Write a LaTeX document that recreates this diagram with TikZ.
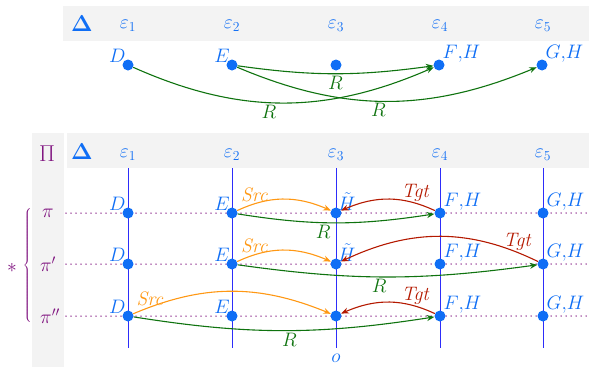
\RequirePackage{fix-cm}
\documentclass[tikz,border=0pt]{standalone}
\usetikzlibrary{arrows.meta,bending}
\definecolor{dotblue}{RGB}{15,110,245}
\definecolor{lineblue}{RGB}{45,45,250}
\definecolor{rgreen}{RGB}{15,115,15}
\definecolor{sorange}{RGB}{255,152,20}
\definecolor{tred}{RGB}{180,25,0}
\definecolor{ppurple}{RGB}{128,20,128}
\definecolor{bandgray}{RGB}{243,243,243}
\tikzset{
  big/.style={font=\fontsize{19.5}{22}\selectfont},
  huge/.style={font=\fontsize{23}{26}\selectfont},
  lbl/.style={big, text=dotblue, inner sep=1pt},
  pt/.style={circle, fill=dotblue, minimum size=11pt, inner sep=0pt},
  arc/.style={line width=1.1pt, -{Stealth[length=7.5pt,width=6pt]}},
  rarc/.style={arc, draw=rgreen},
  sarc/.style={arc, draw=sorange},
  tarc/.style={arc, draw=tred},
  rlab/.style={big, text=rgreen, inner sep=1.5pt},
  slab/.style={big, text=sorange, inner sep=1pt},
  tlab/.style={big, text=tred, inner sep=1pt},
  plab/.style={big, text=ppurple},
  vline/.style={draw=lineblue, line width=1pt},
  hdot/.style={draw=ppurple, line width=1.5pt, dash pattern=on 0pt off 5pt, line cap=round},
  band/.style={fill=bandgray, draw=none},
  ul/.style={label={[lbl,label distance=-4pt]135:#1}},
  ur/.style={label={[lbl,label distance=-3pt]25:#1}},
  uh/.style={label={[lbl,label distance=-4pt]60:#1}}
}
\begin{document}
\begin{tikzpicture}[x=1pt,y=-1pt]
\useasboundingbox (0,0) rectangle (589,367);
% bands
\fill[band] (63,6) rectangle (589,41);
\fill[band] (32,133) rectangle (64,367);
\fill[band] (67,133) rectangle (589,168);
% top header
\node[lbl, huge] (tDelta) at (82,24) {$\mathbf{\Delta}$};
\node[lbl] (te1) at (128,26) {$\varepsilon_1$};
\node[lbl] (te2) at (232,26) {$\varepsilon_2$};
\node[lbl] (te3) at (336,26) {$\varepsilon_3$};
\node[lbl] (te4) at (440,26) {$\varepsilon_4$};
\node[lbl] (te5) at (543,26) {$\varepsilon_5$};
% top dots
\node[pt, ul={$D$}] (tD) at (128,65) {};
\node[pt, ul={$E$}] (tE) at (232,65) {};
\node[pt] (tM) at (336,65) {};
\node[pt, ur={$F{,}H$}] (tF) at (439,65) {};
\node[pt, ur={$G{,}H$}] (tG) at (542,65) {};
\draw[rarc] (tD) to[bend right=24] node[pos=.45,below,rlab]{$R$} (tF);
\draw[rarc] (tE) to[bend right=8] node[pos=.5,below,rlab]{$R$} (tF);
\draw[rarc] (tE) to[bend right=23] node[pos=.47,below,rlab]{$R$} (tG);
% bottom header
\node[plab, huge] (Pi) at (47,154) {$\Pi$};
\node[lbl, huge] (bDelta) at (82,152) {$\mathbf{\Delta}$};
\node[lbl] (be1) at (128,155) {$\varepsilon_1$};
\node[lbl] (be2) at (232,155) {$\varepsilon_2$};
\node[lbl] (be3) at (336,155) {$\varepsilon_3$};
\node[lbl] (be4) at (440,155) {$\varepsilon_4$};
\node[lbl] (be5) at (543,155) {$\varepsilon_5$};
% vertical lines
\foreach \i/\x in {1/128,2/232,3/336,4/440,5/543}{
  \coordinate (v\i t) at (\x,168);
  \coordinate (v\i b) at (\x,348);
  \draw[vline] (v\i t) -- (v\i b);
}
% row labels and dotted lines
\node[plab] (r1) at (48,213) {$\pi$};
\node[plab] (r2) at (48,264) {$\pi'$};
\node[plab] (r3) at (50,316) {$\pi''$};
\foreach \j/\y in {1/213,2/264,3/316}{
  \coordinate (h\j l) at (66,\y);
  \coordinate (h\j r) at (589,\y);
  \draw[hdot] (h\j l) -- (h\j r);
}
% brace and star
\node[text=ppurple, inner sep=0pt, font=\fontsize{10}{12}\selectfont] (brace) at (28,266) {$\left\{\vrule height 56pt depth 56pt width 0pt\right.$};
\node[plab] (star) at (12,268) {$\ast$};
% row pi
\node[pt, ul={$D$}] (aD) at (128,213) {};
\node[pt, ul={$E$}] (aE) at (232,213) {};
\node[pt, uh={$\tilde H$}] (aH) at (336,213) {};
\node[pt, ur={$F{,}H$}] (aF) at (440,213) {};
\node[pt, ur={$G{,}H$}] (aG) at (543,213) {};
% row pi'
\node[pt, ul={$D$}] (bD) at (128,264) {};
\node[pt, ul={$E$}] (bE) at (232,264) {};
\node[pt, uh={$\tilde H$}] (bH) at (336,264) {};
\node[pt, ur={$F{,}H$}] (bF) at (440,264) {};
\node[pt, ur={$G{,}H$}] (bG) at (543,264) {};
% row pi''
\node[pt, ul={$D$}] (cD) at (128,316) {};
\node[pt, ul={$E$}] (cE) at (232,316) {};
\node[pt] (cO) at (336,316) {};
\node[pt, ur={$F{,}H$}] (cF) at (440,316) {};
\node[pt, ur={$G{,}H$}] (cG) at (543,316) {};
\node[lbl] (olab) at (336,358) {$o$};
% arcs row pi
\draw[sarc] (aE) to[bend left=25] node[pos=.18,above,slab]{\textit{Src}} (aH);
\draw[tarc] (aF) to[bend right=25] node[pos=.2,above,tlab]{\textit{Tgt}} (aH);
\draw[rarc] (aE) to[bend right=9] node[pos=.43,below,rlab]{$R$} (aF);
% arcs row pi'
\draw[sarc] (bE) to[bend left=25] node[pos=.18,above,slab]{\textit{Src}} (bH);
\draw[tarc] (bG) to[bend right=26] node[pos=.1,above,tlab]{\textit{Tgt}} (bH);
\draw[rarc] (bE) to[bend right=8] node[pos=.47,below,rlab]{$R$} (bG);
% arcs row pi''
\draw[sarc] (cD) to[bend left=23] node[pos=.08,above,slab]{\textit{Src}} (cO);
\draw[rarc] (cD) to[bend right=9] node[pos=.52,below,rlab]{$R$} (cF);
\draw[tarc] (cF) to[bend right=25] node[pos=.2,above,tlab]{\textit{Tgt}} (cO);
\end{tikzpicture}
\end{document}
